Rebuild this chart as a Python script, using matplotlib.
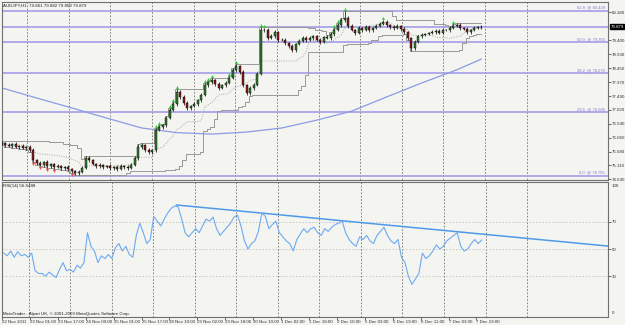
import numpy as np
import pandas as pd
import matplotlib
matplotlib.use('Agg')
import matplotlib.pyplot as plt
import matplotlib.transforms as mtransforms

plt.rcParams['font.family'] = ['Liberation Sans', 'DejaVu Sans']

# AUDJPY H1, drawn as 2-hour candles
first_open = 75.85
closes = [
    75.87, 75.80, 75.77, 75.84, 75.74, 75.77, 75.70, 75.74, 75.63, 75.29,
    75.19, 75.12, 75.22, 75.08, 75.15, 75.05, 75.08, 75.01, 75.05, 74.98,
    74.91, 74.84, 74.88, 75.01, 75.36, 75.29, 75.15, 75.08, 75.12, 75.05,
    75.08, 75.01, 75.05, 74.98, 75.08, 75.05, 75.01, 75.12, 75.36, 75.74,
    75.80, 75.63, 75.56, 75.63, 76.32, 76.42, 76.49, 76.73, 77.01, 77.21,
    77.63, 77.46, 77.25, 77.08, 77.15, 77.21, 77.35, 77.52, 77.87, 77.97,
    78.04, 77.90, 77.77, 77.87, 77.94, 78.11, 78.38, 78.52, 78.32, 77.87,
    77.59, 77.77, 77.87, 78.25, 79.76, 79.76, 79.49, 79.55, 79.69, 79.42,
    79.42, 79.31, 79.21, 79.07, 79.28, 79.38, 79.49, 79.42, 79.49, 79.55,
    79.42, 79.35, 79.52, 79.49, 79.62, 79.76, 79.93, 80.10, 80.17, 79.90,
    79.76, 79.66, 79.83, 79.76, 79.86, 79.76, 79.83, 79.90, 79.97, 80.04,
    79.93, 79.86, 79.83, 79.90, 79.80, 79.69, 79.49, 79.14, 79.35, 79.55,
    79.59, 79.62, 79.66, 79.69, 79.73, 79.66, 79.76, 79.76, 79.83, 79.90,
    79.93, 79.83, 79.80, 79.69, 79.76, 79.83, 79.86, 79.879]
# wick sizes in hundredths of a yen
wick_up = [
    6, 5, 8, 4, 6, 5, 7, 4, 5, 6,
    5, 7, 4, 6, 5, 4, 6, 5, 4, 5,
    4, 5, 6, 8, 6, 5, 4, 5, 6, 4,
    5, 6, 4, 5, 6, 4, 5, 6, 8, 10,
    6, 5, 7, 4, 6, 8, 5, 7, 6, 8,
    9, 6, 5, 7, 4, 6, 5, 6, 8, 5,
    6, 5, 7, 4, 6, 8, 7, 6, 5, 6,
    4, 5, 6, 8, 10, 7, 6, 8, 7, 5,
    6, 5, 4, 6, 5, 7, 6, 5, 6, 5,
    4, 6, 5, 7, 6, 8, 7, 8, 25, 6,
    7, 5, 6, 5, 7, 6, 5, 6, 7, 8,
    6, 5, 7, 6, 5, 6, 5, 4, 6, 5,
    6, 5, 4, 6, 5, 7, 6, 5, 6, 7,
    8, 6, 5, 6, 5, 6, 5, 4]
wick_dn = [
    5, 6, 4, 7, 5, 6, 4, 5, 6, 8,
    6, 5, 7, 5, 6, 7, 5, 6, 5, 6,
    7, 8, 6, 5, 4, 6, 5, 6, 5, 6,
    5, 6, 5, 7, 5, 6, 5, 4, 5, 6,
    6, 7, 5, 6, 5, 4, 6, 5, 4, 5,
    6, 7, 6, 8, 6, 5, 6, 5, 4, 6,
    5, 6, 7, 5, 6, 4, 5, 6, 7, 8,
    6, 5, 6, 4, 5, 6, 7, 5, 6, 6,
    5, 6, 7, 5, 6, 5, 4, 6, 5, 6,
    5, 6, 5, 4, 6, 5, 4, 5, 6, 7,
    5, 6, 5, 6, 5, 6, 7, 5, 4, 5,
    6, 5, 6, 5, 6, 5, 7, 10, 6, 5,
    6, 5, 4, 5, 6, 5, 4, 5, 6, 5,
    4, 6, 5, 7, 5, 4, 5, 6]

green_marks = [44, 45, 48, 49, 50, 58, 59, 60, 65, 67, 74, 75, 95, 96, 98, 109, 129]
red_marks = [9, 11, 13, 15, 20]

ma_idx = [0, 10, 20, 30, 40, 50, 60, 70, 80, 90, 100, 110, 120, 130, 137]
ma_vals = [77.77, 77.42, 77.08, 76.73, 76.39, 76.23, 76.18, 76.25, 76.39, 76.66,
           76.97, 77.46, 77.94, 78.39, 78.76]

fib_levels = ['61.8', '50.0', '38.2', '23.6', '0.0']
fib_prices = [80.429, 79.355, 78.270, 76.926, 74.755]
last_price = 79.879

price_ticks = [80.380, 79.400, 78.930, 78.450, 77.970, 77.490, 77.020,
               76.540, 76.060, 75.580, 75.110, 74.630]

rsi = [
    47, 45, 48.5, 44, 48, 45, 46, 44, 47, 34,
    32, 32, 30, 33, 31, 29, 35, 40, 34, 35,
    33, 38, 36, 40, 62, 52, 48.5, 40, 45, 43,
    46, 43, 51, 54, 48.5, 52, 46, 44, 60, 69,
    62, 54, 57, 74, 70.5, 67, 72, 76.5, 80, 81.6,
    81, 72, 62, 59, 62, 65, 62, 67, 72, 70.5,
    73.5, 65, 60, 63, 66, 69, 73.5, 75, 67, 56,
    50, 54, 56, 63, 76.5, 74, 65, 68, 70.5, 62,
    59, 56, 54, 48.5, 57, 61, 65, 62, 65, 66,
    62, 60, 65, 63, 66, 68, 69, 70.5, 62, 57,
    54, 52, 59, 57, 60, 56, 54, 60, 63, 66,
    60, 56, 54, 57, 44, 40, 30, 24, 28, 32,
    47, 43, 45, 48.5, 53, 50, 52, 56, 58, 60,
    62, 52, 48.5, 50, 54, 57, 54, 56.65]
rsi_trend_x = [49.5, 180]
rsi_trend_y = [82.4, 50.5]

time_labels = ['22 Nov 2011', '23 Nov 01:00', '23 Nov 17:00', '24 Nov 09:00', '25 Nov 01:00',
               '25 Nov 17:00', '28 Nov 10:00', '29 Nov 02:00', '29 Nov 18:00', '30 Nov 10:00',
               '1 Dec 02:00', '1 Dec 18:00', '2 Dec 10:00', '5 Dec 03:00', '5 Dec 19:00',
               '6 Dec 11:00', '7 Dec 03:00', '7 Dec 19:00']

# ---- derived candle arrays
closes = np.array(closes)
opens = np.concatenate([[first_open], closes[:-1]])
highs = np.maximum(opens, closes) + np.array(wick_up) / 100
lows = np.minimum(opens, closes) - np.array(wick_dn) / 100
x = np.arange(len(closes))
upper = pd.Series(highs).rolling(14, min_periods=1).max()
lower = pd.Series(lows).rolling(14, min_periods=1).min()
middle = (upper + lower) / 2

W, H = 625, 325
bg = '#f4f4f0'
grid_c = '#6e6e6e'
fib_c = '#a59de8'
small = 3.2
txt_c = '#303030'

fig = plt.figure(figsize=(W / 100, H / 100), dpi=100)
fig.patch.set_facecolor(bg)
ax = fig.add_axes([2 / W, 1 - 180 / H, 606 / W, 178 / H])
ax_rsi = fig.add_axes([2 / W, 1 - 317 / H, 606 / W, 135 / H])

xlim = (0.07, 173.21)
for a in (ax, ax_rsi):
    a.set_facecolor(bg)
    a.set_xlim(*xlim)
    for s in a.spines.values():
        s.set_color('#707070')
        s.set_linewidth(0.8)
    for gx in np.arange(7.2, 152, 11.9):
        a.axvline(gx, color=grid_c, ls=(0, (2, 2)), lw=0.6, zorder=0)

# ---- main price window
ax.set_ylim(74.601, 80.724)
for p in fib_prices:
    ax.axhline(p, color=fib_c, lw=1.2, zorder=1)
ax.axhline(last_price, color=fib_c, lw=1.2, zorder=1)

ax.plot(ma_idx, ma_vals, color='#8b9be4', lw=0.9, zorder=2)
ax.plot(x, upper, color='#9a9a9a', lw=0.7, drawstyle='steps-mid', zorder=2)
ax.plot(x, lower, color='#9a9a9a', lw=0.7, drawstyle='steps-mid', zorder=2)
ax.plot(x, middle, color='#a8a8a8', lw=0.7, ls=(0, (1, 1.5)), zorder=2)

ax.vlines(x, lows, highs, color='black', lw=0.5, zorder=3)
up = closes >= opens
dn = ~up
ax.bar(x[up], (closes - opens)[up], bottom=opens[up], width=0.6, color='#2e7d2e',
       edgecolor='black', lw=0.3, zorder=4)
ax.bar(x[dn], (closes - opens)[dn], bottom=opens[dn], width=0.6, color='#8c1c1c',
       edgecolor='black', lw=0.3, zorder=4)
ax.scatter(green_marks, highs[green_marks] + 0.07, marker='^', s=5, color='#33cc33', lw=0, zorder=5)
ax.scatter(red_marks, lows[red_marks] - 0.07, marker='v', s=5, color='#ff4a4a', lw=0, zorder=5)

tr = mtransforms.blended_transform_factory(ax.transAxes, ax.transData)
for lvl, p in zip(fib_levels, fib_prices):
    ax.text(0.995, p + 0.03, f'{lvl}  @ {p:.3f}', transform=tr, ha='right', va='bottom',
            fontsize=small - 0.2, color='#7f76d6')
ax.text(1.004, last_price, f'{last_price:.3f}', transform=tr, ha='left', va='center',
        fontsize=small, color='white', clip_on=False,
        bbox=dict(boxstyle='square,pad=0.12', fc='black', ec='black'))

ax.yaxis.tick_right()
ax.set_yticks(price_ticks)
ax.set_yticklabels([f'{v:.3f}' for v in price_ticks])
ax.tick_params(axis='y', labelsize=small, length=2, width=0.5, pad=0.8, colors=txt_c)
ax.set_xticks([])
ax.text(1 / 606, 1 - 1.5 / 178, 'AUDJPY,H1  79.861 79.882 79.859 79.879', transform=ax.transAxes,
        ha='left', va='top', fontsize=small, color='#202020')

# ---- RSI window
ax_rsi.set_ylim(0, 99.3)
for lv in (70, 50, 30):
    ax_rsi.axhline(lv, color='#c4c4c4', ls=(0, (2, 2)), lw=0.6, zorder=0)
ax_rsi.plot(rsi_trend_x, rsi_trend_y, color='#4f9ae8', lw=1.1, zorder=2)
ax_rsi.plot(x, rsi, color='#6eaaf0', lw=0.8, zorder=3)

ax_rsi.yaxis.tick_right()
ax_rsi.set_yticks([70, 50, 30])
ax_rsi.tick_params(axis='y', labelsize=small, length=2, width=0.5, pad=0.8, colors=txt_c)
ax_rsi.text(1.006, 0.985, '100', transform=ax_rsi.transAxes, ha='left', va='top',
            fontsize=small, color=txt_c)
ax_rsi.text(1.006, 0.015, '0', transform=ax_rsi.transAxes, ha='left', va='bottom',
            fontsize=small, color=txt_c)

ax_rsi.set_xticks([8 * k - 0.5 for k in range(len(time_labels))])
ax_rsi.set_xticklabels(time_labels)
for lbl in ax_rsi.get_xticklabels():
    lbl.set_ha('left')
ax_rsi.tick_params(axis='x', labelsize=small, length=2, width=0.5, pad=0.5, colors=txt_c)

ax_rsi.text(1 / 606, 1 - 1.5 / 135, 'RSI(14) 56.6488', transform=ax_rsi.transAxes,
            ha='left', va='top', fontsize=small, color='#202020')
ax_rsi.text(1 / 606, 1.5 / 135, 'MetaTrader - Alpari UK, \u00a9 2001-2009 MetaQuotes Software Corp.',
            transform=ax_rsi.transAxes, ha='left', va='bottom', fontsize=small, color='#202020')

fig.savefig('out.png', dpi=100, facecolor=bg)
